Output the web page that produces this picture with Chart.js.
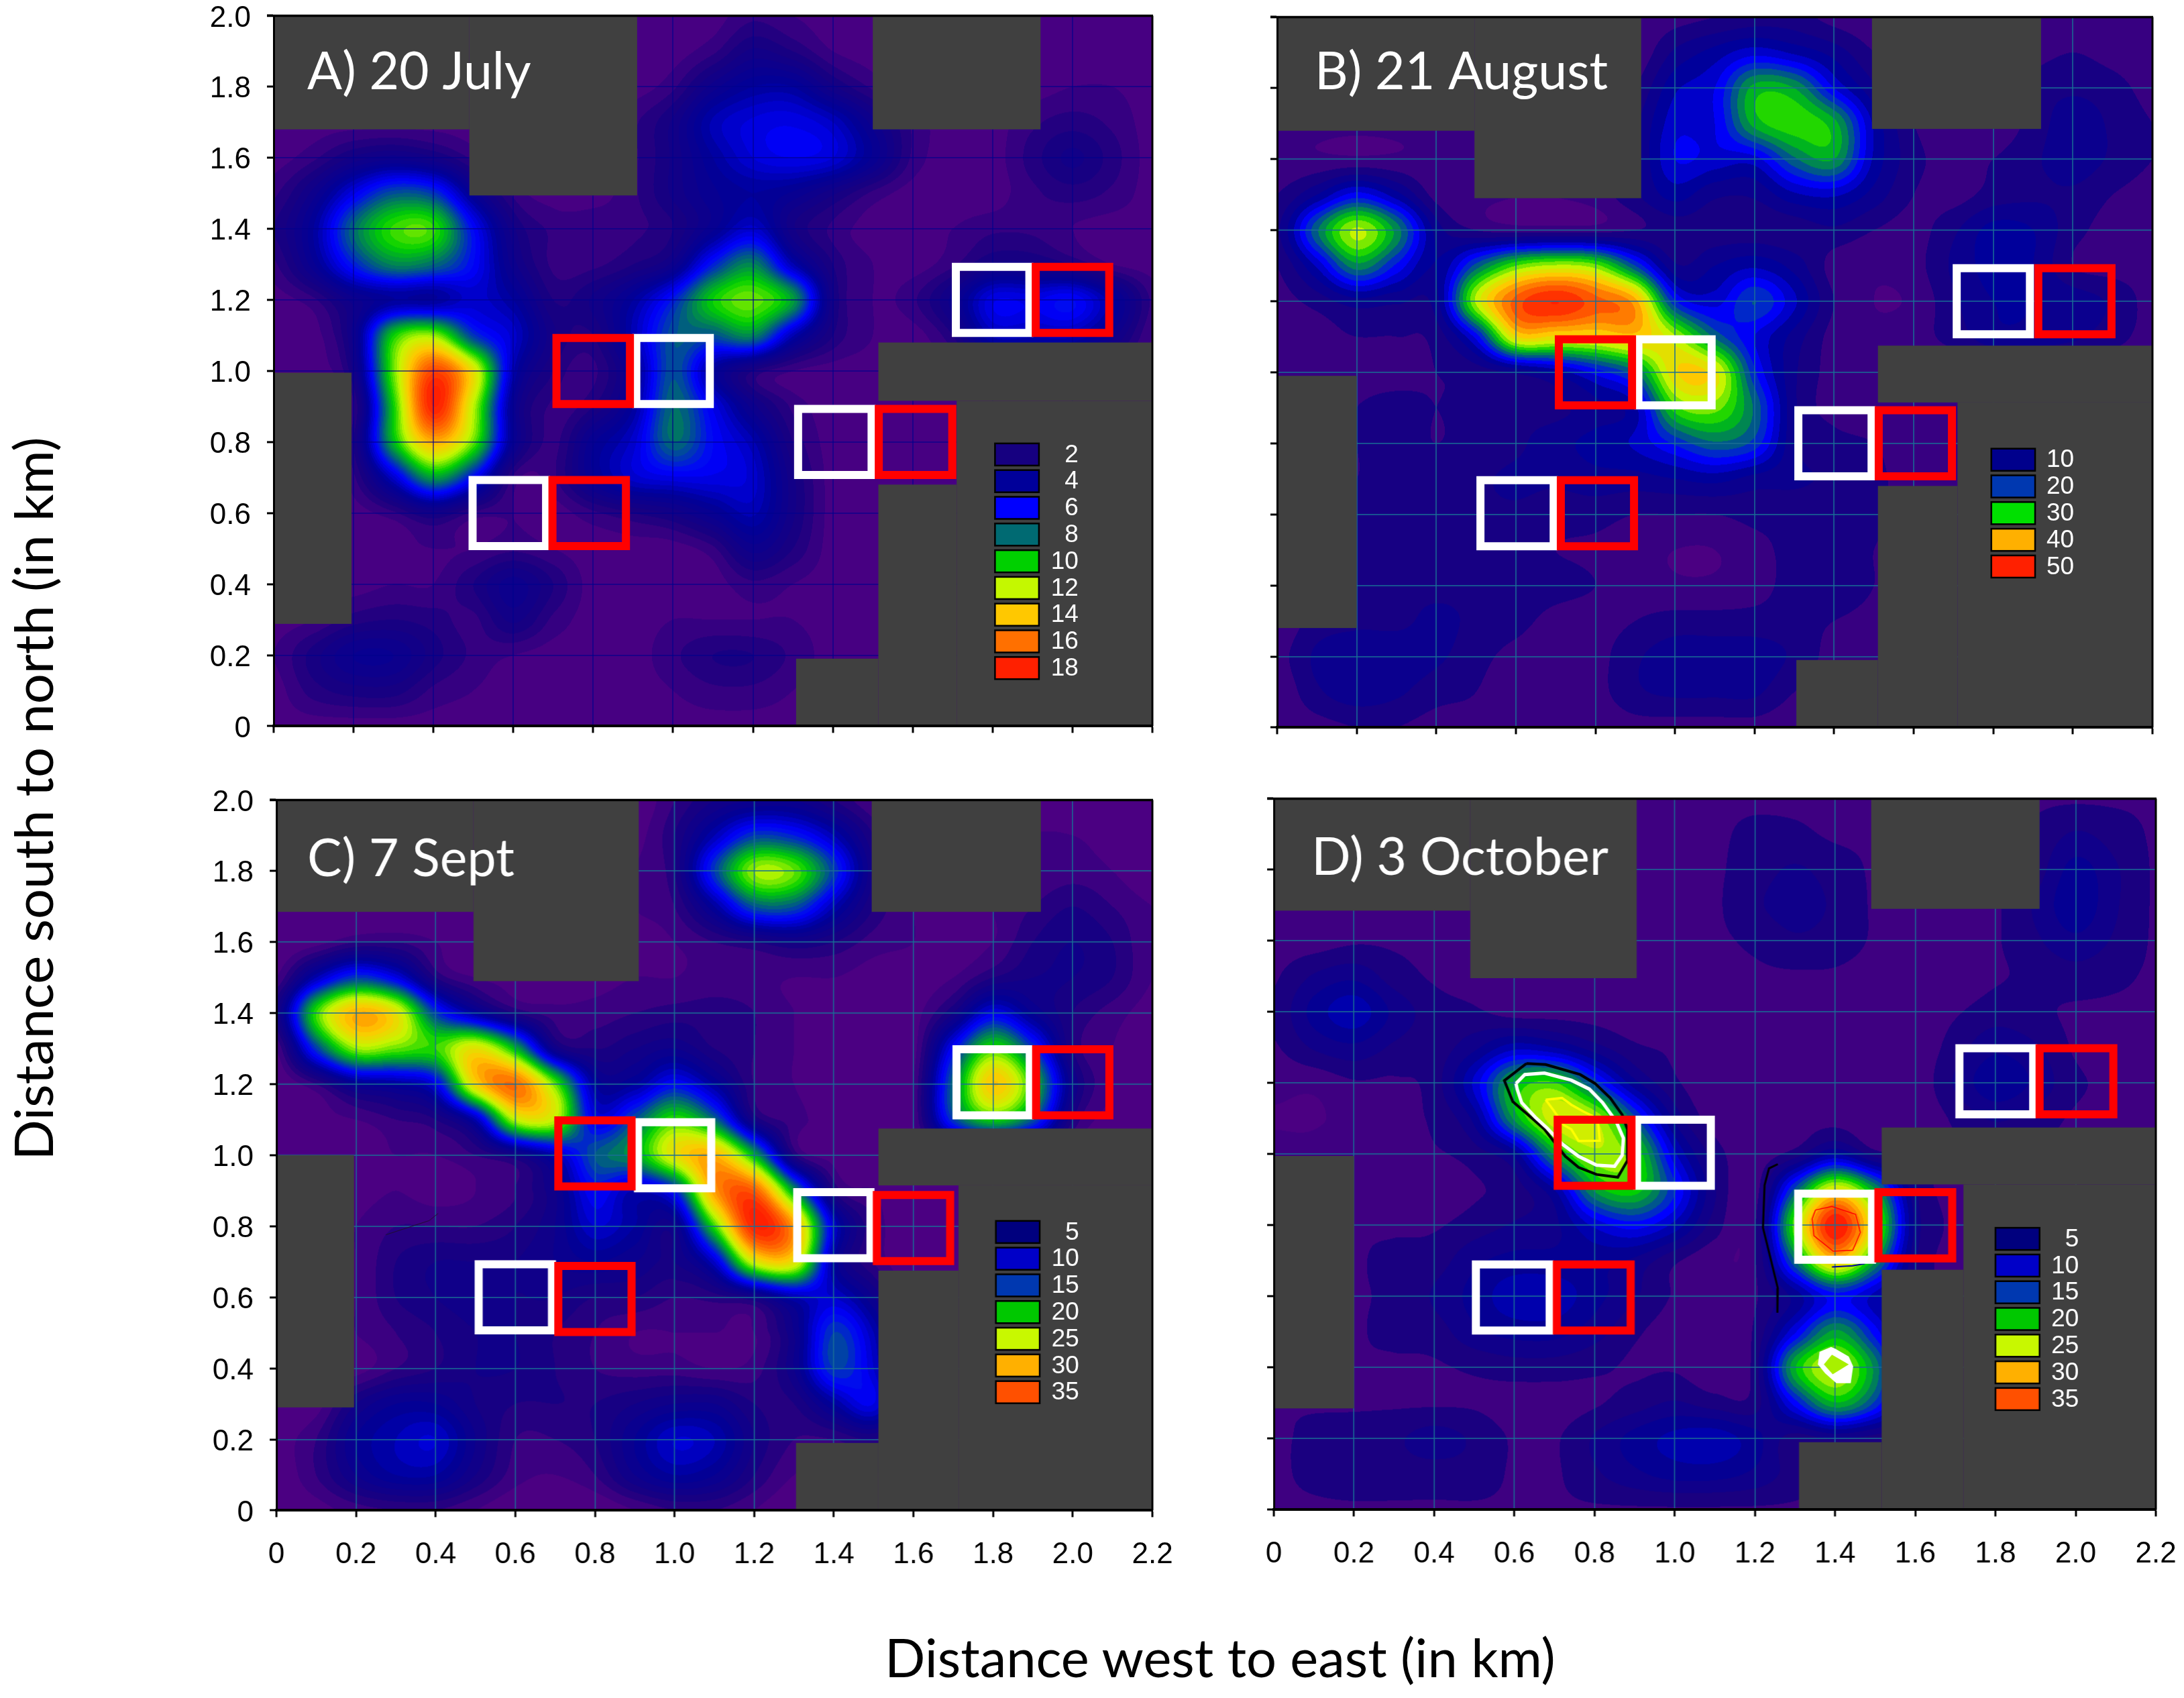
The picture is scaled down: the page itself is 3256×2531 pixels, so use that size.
<!DOCTYPE html>
<html>
<head>
<meta charset="utf-8">
<title>Distance maps</title>
<script src="https://cdn.jsdelivr.net/npm/chart.js@4"></script>
<style>
    html, body { margin: 0; background: #fff; }
    #page { position: relative; width: 3256px; height: 2531px; overflow: hidden; }
    canvas { position: absolute; }
    .axis-title { position: absolute; font-family: Lato, sans-serif; font-size: 79.5px; color: #000; white-space: nowrap; }
</style>
</head>
<body>
<div id="page">
    <div class="axis-title" id="title-x">Distance west to east (in km)</div>
    <div class="axis-title" id="title-y">Distance south to north (in km)</div>
</div>
<script>
const xTickLabels = ['0', '0.2', '0.4', '0.6', '0.8', '1.0', '1.2', '1.4', '1.6', '1.8', '2.0', '2.2'];
const yTickLabels = ['0', '0.2', '0.4', '0.6', '0.8', '1.0', '1.2', '1.4', '1.6', '1.8', '2.0'];

// Field, one row per 0.1 km, north (2.0) first, west (0) to east (2.2)
const heatA = [
    [1,1,1,1,1,1,1,1,1,1,1,1,1.5,1.2,1,1,1,1,1,1,1,1,1],
    [1,1,1,1,1,1,1,1,1,1,1,1.5,2.5,2,1.2,1,1,1,1,1,1,1,1],
    [1,1,1,1,1,1,1,1,1,1,1.5,3,4,4,2.5,1.5,1,1,1,1,1.2,1.2,1],
    [1,1,1,1,1,1,1,1,1,1.5,2.5,4.5,5.3,5.5,4.8,3,1.5,1,1,1.5,1.8,1.5,1],
    [1,1.5,2.5,3,2.5,1.5,1,1,1,1.5,2.5,4,5.2,5.6,5.2,3.5,1.5,1,1,1.8,2.5,1.8,1],
    [1.5,3,5.5,7.5,7,3.5,1.5,1,1,1.5,2.5,3.5,4,3.5,2.5,1.5,1,1,1,1.5,1.8,1.5,1],
    [2,4,8,10.5,10.5,6,2.5,1.5,1.5,1.5,2,3.5,5,2.5,1.5,1,1,1.2,1.5,1.5,1.2,1,1],
    [1.5,3.5,6.5,8.5,8,6,3,1.5,1.5,2,3,6.5,8.5,4.5,2,1.2,1,1.5,2.5,2.5,2,1.2,1],
    [1,1.5,3,4,4,5,4,2,2.5,4,6.5,10,11,9,2.5,1.2,1.5,3,5.5,5.5,6,4,1.5],
    [1,1,3,10,11.5,7,5,2.5,2,4.5,7.5,7.5,8.5,4.5,2,1.2,1,2,4.5,4.5,4.5,3,1.2],
    [1,1,2.5,11,17,13,4.5,2,1.5,3.5,7.5,4,2,1.2,1,1,1,1,1.5,1.5,1.5,1,1],
    [1,1,1.5,10,18,12,3.5,1.5,2,4,8,5.5,3,1.5,1,1,1,1,1,1,1,1,1],
    [1,1,2,9.5,14.5,11,3.5,1.5,3.5,5,8,6,4.5,2,1,1,1,1,1,1,1,1,1],
    [1,1,1.5,5,9,6,1.5,1.5,3.5,5,5.5,5.5,5,2.5,1,1,1,1,1,1,1,1,1],
    [1,1,1,1.5,2.5,1.5,1.2,1,1.5,2,2.5,3.5,4.5,2.5,1,1,1,1,1,1,1,1,1],
    [1,1,1,1,1.2,1.2,1.5,1.2,1,1,1,1.5,3,2,1,1,1,1,1,1,1,1,1],
    [1,1,1,1.2,1.2,2,3,2,1,1,1,1,1.5,1.2,1,1,1,1,1,1,1,1,1],
    [1,1.2,1.8,2,1.8,1.5,2.5,1.5,1,1,1.2,1.2,1.2,1.2,1,1,1,1,1,1,1,1,1],
    [1.2,2.2,3.2,3.2,2.2,1.5,1.2,1,1,1,1.5,2,2,1.5,1,1,1,1,1,1,1,1,1],
    [1,1.8,2.2,2.2,1.5,1.2,1,1,1,1,1.2,1.5,1.5,1.2,1,1,1,1,1,1,1,1,1],
    [1,1,1,1,1,1,1,1,1,1,1,1,1,1,1,1,1,1,1,1,1,1,1]
];
const heatB = [
    [3,3,3,3,3,3,3,3,3,3,4,5,6,6,4,3,3,3,3,3,3,3,3],
    [3,3,3,3,3,3,3,3,3,3,8,11,14,12,9,5,3,3,3,4,5,4,3],
    [3,3,3,3,3,3,3,3,3,5,12,15,26,25,15,8,3,3,3,6,7,6,4],
    [3,3,3,3,3,3,3,3,3,7,14,15,26,29,26,12,5,3,3,6,9,7,5],
    [3,3,3,3,3,3,3,3,3,7,15,14,14,22,25,12,6,4,5,7,9,7,5],
    [5,10,16,11,4,3,2.5,2.5,3.5,7,11,8,8,12,13,9,5,4,6,7,7,5,4],
    [7,22,33,24,9,5,4,4,4,5,6,6,6,6,7,5,4,7,11,10,6,4,4],
    [5,13,24,17,10,21,30,33,31,20,8,10,12,9,4,3,4,8,11,10,5,4,4],
    [4,6,9,8,9,33,46,50,46,41,18,14,20,13,5,2.5,3,7,10,10,9,7,4],
    [4,4,5,5,6,16,37,37,37,39,33,22,15,9,4,3,4,6,9,9,8,6,4],
    [4,4,4,4,5,6,8,11,16,22,37,36,18,8,4,3,3,3,3,3,3,3,3],
    [4,4,5,6,5,6,7,7,9,12,29,31,22,8,4,3,3,3,3,3,3,3,3],
    [4,4,5,6,5,6,7,9,11,13,18,22,19,8,6,5,3,3,3,3,3,3,3],
    [4,4,5,6,6,7,8,8,9,9,10,11,9,8,7,6,3,3,3,3,3,3,3],
    [4,4,6,7,7,7,7,6,6,5,5,5,6,6,6,6,3,3,3,3,3,3,3],
    [4,4,6,7,7,7,6,5,4.5,3.5,2.5,2.5,4,6,7,5,3,3,3,3,3,3,3],
    [4,4,6,7,7,7,7,6,5,4,3,3,4,6,7,5,3,3,3,3,3,3,3],
    [3,6,7,7,8,7,6,4,4,5,6,6,6,6,5,4,3,3,3,3,3,3,3],
    [4,8,9,9,8,6,4,3,4,7,9,9,9,7,4,4,3,3,3,3,3,3,3],
    [3,7,9,8,6,5,3,3,4,7,8,8,8,5,4,4,3,3,3,3,3,3,3],
    [3,4,5,5,4,4,3,3,3,4,4,4,4,3,3,3,3,3,3,3,3,3,3]
];
const heatC = [
    [1,1,1,1,1,1,1,1,1,1,3,5,6,6,4,2,1,1,1,1,1,1,1],
    [1,1,1,1,1,1,1,1,1,1.5,4,9,14,13,9,4,1.5,1,1,2,2,1.5,1],
    [1,1,1,1,1,1,1,1,1,2,4,14,23,22,14,5,2,1,1.5,2,2.5,2,1],
    [1,1,1,1,1,1,1,1,1,2,3,8,15,15,9,4,2,1.5,2,3,4,3,2],
    [1,1.5,3,3,2,1,1,1,1,1.5,2,3,4,5,4,2.5,2,1.5,2,4,5,4,2],
    [2,9,14,11,4,2,1.5,1.2,1.5,2,2,2.5,2.5,2,2,1.5,1.5,2,4,5,5,4,2],
    [5,21,29,26,14,8,4,2.5,2.5,3,3.5,3.5,3,2,1.5,1.2,1.5,5,11,7,4,2.5,1.5],
    [2,14,23,22,21,26,19,6,4,5,6,4,3,2,1.5,1.2,1.5,12,21,14,4,2,1.5],
    [1,3,7,8,11,27,32,22,8,8,12,8,3,2,1.5,1.2,2,16,28,20,6,2,1.5],
    [1,1.5,2,3,4,9,24,24,11,15,21,16,5,2.5,1.5,1.2,2,14,20,15,4,1.5,1.2],
    [1,1.2,1.5,2,2,3,5,9,15,18,26,29,19,4,1.5,1,1,1,1,1,1,1,1],
    [1,1.2,1.5,2,1.5,2,3,6,12,9,13,30,33,18,4,2,1,1,1,1,1,1,1],
    [1,1.5,2,3,3,3,4,6,10,8,6,21,36,30,10,3,1,1,1,1,1,1,1],
    [1,1.5,2,4,5,5,5,6,7,6,5,10,25,26,8,3,1,1,1,1,1,1,1],
    [1,1.5,2,4,5,5.5,5,5,4,4,3,3.5,5,9,10,6,1,1,1,1,1,1,1],
    [1,1.5,2,3,4,5,5,4,3,2,2,2,2,6,14,9,1,1,1,1,1,1,1],
    [1,1.2,1.5,3,4,5,5,4,3,2.5,2.5,2,2.5,6,14,10,1,1,1,1,1,1,1],
    [1,1.5,5,7,7,5,4,4,4,5,6,6,4,4,8,11,1,1,1,1,1,1,1],
    [1.5,3,7,9,10,6,3,3,4,7,10,9,5,3,3,4,1,1,1,1,1,1,1],
    [1.2,3,6,8,8,5,2.5,2,3,6,8,7,4,2,2,2,1,1,1,1,1,1,1],
    [1,1.5,2.5,3,3,2,1,1,1,2,3,3,2,1,1,1,1,1,1,1,1,1,1]
];
const heatD = [
    [3,3,3,3,3,3,3,3,3,3,3,3,3,3,3,3,3,3,3,3,3,3,3],
    [3,3,3,3,3,3,3,3,3,3,3,3,3.5,3.5,3,3,3,3,3,3.5,5,4,3],
    [3,3,3,3,3,3,3,3,3,3,3,3,4,5,4,3,3,3,3,4,7,5,3],
    [3,3,3,3,3,3,3,3,3,3,3,3,4.5,5.5,4.5,3,3,3,3,5,7.5,5,3],
    [2.5,2.5,3,3,3,3,3,3,3,3,3,3,3.5,4.5,4,3,2.5,2,3,4.5,6,4.5,3],
    [3,5,6,4,3,2.5,2,2,2,2.5,3,3,3,3,3,2.5,2,2,3,3.5,4,3.5,3],
    [3.5,7,9,6,4,3.5,2.5,2.5,2.5,2.5,3,3,3,3,3,2,2,3,4,3.5,3,3,3],
    [3,5,6,4.5,4,6,9,8,5.5,3.5,3,2.5,3,3,2.5,1.8,2,4,6,5,3,3,3],
    [2,2,3,3,4,10,19,21,14,7,3.5,2.5,3,2.5,2.5,1.8,2,5,7.5,6,3.5,3,2.5],
    [1.5,1.5,2,3,3.5,7,18,25,24,15,6,2.5,2.5,2.5,2.5,2,2,3.5,5,4,3,3,2.5],
    [2,2,3,3,3,4,7,18,23.5,21,10,4,2.5,4,8,4,3,3,3,3,3,3,3],
    [2,2,3,2.5,2,3,4,8,18,20,13,5,2.5,15,26,18,5,3,3,3,3,3,3],
    [2,2,3,3,3,4,5,6,10,12,9,4,3,22,37,24,6,3,3,3,3,3,3],
    [2,2,3,3.5,4,6,7,7,7,6,3.5,2,3,16,28,18,5,3,3,3,3,3,3],
    [2,2,3,3.5,5,7,9,9,7,5,3,2,3,7,12,9,4,3,3,3,3,3,3],
    [2,2,3,3.5,4,6,7,7,5.5,3.5,2.5,2,3.5,11,18,12,4,3,3,3,3,3,3],
    [2,2,3,3,3,3.5,4,4,3.5,3,3,2,4,19,24,17,4,3,3,3,3,3,3],
    [3,3,3,3,3,3,2.5,2.5,3,4,5,4,4,12,19,14,4,3,3,3,3,3,3],
    [3,3.5,4,4.5,5.5,4.5,3,3,5,7,8.5,9,7,4,5,4,3,3,3,3,3,3,3],
    [3,3.5,4,4,4,4,3,3,4.5,6,7,7,6,4,3,3,3,3,3,3,3,3,3],
    [3,3,3,3,3,3,3,3,3,3,3,3,3,3,3,3,3,3,3,3,3,3,3]
];

// Legend levels and swatches
const levelsA = [2, 4, 6, 8, 10, 12, 14, 16, 18];
const swatchesA = ['#160080', '#00009a', '#0000ff', '#006a72', '#00d000', '#c4f800', '#ffc800', '#ff7000', '#ff2000'];
const levelsB = [10, 20, 30, 40, 50];
const swatchesB = ['#00008c', '#0038b0', '#00e000', '#ffb000', '#ff2000'];
const levelsCD = [5, 10, 15, 20, 25, 30, 35];
const swatchesCD = ['#00007e', '#0000c8', '#0038b0', '#00c800', '#c8f800', '#ffb000', '#ff5000'];

// Colour ramp of the surface, positions are fractions of the top value of a panel
const rampStops = [0, 0.05, 1 / 9, 2 / 9, 3 / 9, 4 / 9, 5 / 9, 6 / 9, 7 / 9, 8 / 9, 1];
const rampColours = ['#4b0082', '#4b0082', '#1a0080', '#000098', '#0000ff', '#006a70', '#00d000', '#c4f800', '#ffc800', '#ff7000', '#ff2000'];

// Survey squares, centres in km
const whiteA = [[0.59, 0.6], [1.0, 1.0], [1.405, 0.8], [1.8, 1.2]];
const redA = [[0.79, 0.6], [0.8, 1.0], [1.607, 0.8], [2.0, 1.2]];
const whiteB = [[0.603, 0.603], [1.0, 1.0], [1.402, 0.8], [1.8, 1.2]];
const redB = [[0.805, 0.603], [0.8, 1.0], [1.604, 0.8], [2.005, 1.2]];
const whiteC = [[0.6, 0.6], [1.0, 1.0], [1.4, 0.803], [1.8, 1.205]];
const redC = [[0.8, 0.595], [0.8, 1.005], [1.6, 0.795], [2.0, 1.205]];
const whiteD = [[0.596, 0.597], [0.998, 1.004], [1.4, 0.796], [1.802, 1.205]];
const redD = [[0.798, 0.597], [0.8, 1.004], [1.6, 0.8], [2.002, 1.205]];

// Grey blocks, x0 y0 x1 y1 in km
const blocksA = [[0, 1.68, 0.49, 2], [0.49, 1.494, 0.91, 2], [1.5, 1.68, 1.92, 2], [0, 0.288, 0.195, 0.995],
    [1.514, 0.916, 2.2, 1.08], [1.71, 0, 2.2, 0.916], [1.514, 0, 1.71, 0.68], [1.308, 0, 1.514, 0.19]];
const blocksB = [[0, 1.68, 0.496, 2], [0.496, 1.49, 0.915, 2], [1.495, 1.685, 1.92, 2], [0, 0.28, 0.2, 0.99],
    [1.51, 0.915, 2.2, 1.075], [1.71, 0, 2.2, 0.915], [1.51, 0, 1.71, 0.68], [1.305, 0, 1.51, 0.19]];
const blocksC = [[0, 1.685, 0.495, 2], [0.495, 1.49, 0.91, 2], [1.495, 1.685, 1.92, 2], [0, 0.29, 0.195, 1.0],
    [1.512, 0.915, 2.2, 1.075], [1.713, 0, 2.2, 0.915], [1.512, 0, 1.713, 0.675], [1.305, 0, 1.512, 0.19]];
const blocksD = [[0, 1.685, 0.49, 2], [0.49, 1.495, 0.905, 2], [1.49, 1.69, 1.91, 2], [0, 0.285, 0.2, 0.995],
    [1.516, 0.915, 2.2, 1.075], [1.72, 0, 2.2, 0.915], [1.516, 0, 1.72, 0.675], [1.31, 0, 1.516, 0.19]];

// Contour lines drawn over panels C and D, km
const strayC = [[0.275, 0.776], [0.384, 0.816], [0.406, 0.836]];
const blackBlobD = [[0.63, 1.255], [0.678, 1.252], [0.764, 1.224], [0.801, 1.199], [0.839, 1.158], [0.869, 1.111], [0.882, 1.07], [0.882, 0.982], [0.858, 0.935], [0.805, 0.943], [0.76, 0.963], [0.727, 0.994], [0.701, 1.032], [0.675, 1.07], [0.641, 1.104], [0.596, 1.148], [0.575, 1.207], [0.63, 1.255]];
const whiteBlobD = [[0.604, 1.199], [0.626, 1.224], [0.675, 1.228], [0.742, 1.208], [0.787, 1.183], [0.82, 1.145], [0.854, 1.092], [0.872, 1.045], [0.869, 0.997], [0.85, 0.966], [0.805, 0.969], [0.76, 0.994], [0.719, 1.029], [0.682, 1.073], [0.652, 1.104], [0.618, 1.145], [0.607, 1.183], [0.604, 1.199]];
const yellowBlobD = [[0.678, 1.153], [0.719, 1.158], [0.742, 1.139], [0.772, 1.12], [0.794, 1.108], [0.809, 1.086], [0.813, 1.038], [0.76, 1.037], [0.742, 1.07], [0.723, 1.082], [0.698, 1.123], [0.678, 1.153]];
const blackStripD = [[1.257, 0.972], [1.235, 0.96], [1.224, 0.913], [1.22, 0.793], [1.238, 0.711], [1.257, 0.623], [1.256, 0.554]];
const redRingD = [[1.351, 0.843], [1.392, 0.853], [1.451, 0.831], [1.463, 0.78], [1.444, 0.73], [1.395, 0.727], [1.347, 0.771], [1.343, 0.818], [1.351, 0.843]];
const navyDashD = [[1.392, 0.683], [1.444, 0.686], [1.474, 0.692]];
const whiteSpotD = [[1.361, 0.444], [1.39, 0.458], [1.4, 0.453], [1.434, 0.431], [1.445, 0.403], [1.439, 0.356], [1.403, 0.356], [1.375, 0.384], [1.357, 0.409]];
const limeSpotD = [[1.392, 0.436], [1.434, 0.409], [1.394, 0.381], [1.372, 0.409]];

function hexToRgb(h) {
    return [parseInt(h.slice(1, 3), 16), parseInt(h.slice(3, 5), 16), parseInt(h.slice(5, 7), 16)];
}
const rampRgb = rampColours.map(hexToRgb);

function colourAt(t) {
    t = Math.max(0, Math.min(1, t));
    let i = 0;
    while (i < rampStops.length - 2 && t > rampStops[i + 1]) i++;
    const k = (t - rampStops[i]) / (rampStops[i + 1] - rampStops[i]);
    return [0, 1, 2].map(c => rampRgb[i][c] + (rampRgb[i + 1][c] - rampRgb[i][c]) * k);
}

function cubic(a, b, c, d, t) {
    return b + 0.5 * t * (c - a + t * (2 * a - 5 * b + 4 * c - d + t * (3 * (b - c) + d - a)));
}

function sampleField(rows, xKm, yKm) {
    const gx = xKm / 0.1, gy = (2 - yKm) / 0.1;
    const ix = Math.floor(gx), iy = Math.floor(gy);
    const tx = gx - ix, ty = gy - iy;
    const vals = [];
    for (let j = -1; j <= 2; j++) {
        const row = rows[Math.max(0, Math.min(rows.length - 1, iy + j))];
        const g = k => row[Math.max(0, Math.min(row.length - 1, ix + k))];
        vals.push(cubic(g(-1), g(0), g(1), g(2), tx));
    }
    return cubic(vals[0], vals[1], vals[2], vals[3], ty);
}

const fieldPlugin = {
    id: 'fieldLayer',
    // painted before the scale layers so the grid lines land on top of it
    beforeDraw(chart, args, opts) {
        const { left, top, width, height } = chart.chartArea;
        const sx = chart.scales.x, sy = chart.scales.y;
        const rows = chart.data.rows;
        const w = Math.round(width), h = Math.round(height);
        const img = new ImageData(w, h);
        const xs = new Float64Array(w);
        for (let i = 0; i < w; i++) xs[i] = Math.max(0, Math.min(2.2, sx.getValueForPixel(left + i + 0.5)));
        const step = opts.step, topValue = opts.top;
        let p = 0;
        for (let j = 0; j < h; j++) {
            const yKm = Math.max(0, Math.min(2, sy.getValueForPixel(top + j + 0.5)));
            for (let i = 0; i < w; i++) {
                const v = Math.max(0, sampleField(rows, xs[i], yKm));
                const band = Math.floor(v / step) * step + step / 2;
                const c = colourAt(band / topValue);
                img.data[p++] = c[0]; img.data[p++] = c[1]; img.data[p++] = c[2]; img.data[p++] = 255;
            }
        }
        const off = document.createElement('canvas');
        off.width = w; off.height = h;
        off.getContext('2d').putImageData(img, 0, 0);
        chart.ctx.drawImage(off, left, top);
    }
};

const blockPlugin = {
    id: 'greyBlocks',
    beforeDatasetsDraw(chart) {
        const { ctx, scales: { x, y } } = chart;
        ctx.save();
        ctx.fillStyle = '#404040';
        chart.data.blocks.forEach(r => {
            const x0 = x.getPixelForValue(r[0]), x1 = x.getPixelForValue(r[2]);
            const y0 = y.getPixelForValue(r[1]), y1 = y.getPixelForValue(r[3]);
            ctx.fillRect(x0, y1, x1 - x0, y0 - y1);
        });
        ctx.restore();
    }
};

const overlayPlugin = {
    id: 'panelOverlay',
    afterDatasetsDraw(chart, args, opts) {
        const { ctx, chartArea: a, scales: { x, y } } = chart;
        ctx.save();
        // panel letter and date
        ctx.fillStyle = '#fff';
        ctx.font = '77px Lato, sans-serif';
        ctx.textAlign = 'left';
        ctx.textBaseline = 'alphabetic';
        ctx.fillText(opts.title, a.left + opts.titleOffset, a.top + opts.titleDrop);
        // legend
        const sw = x.getPixelForValue(opts.legendX + 0.11) - x.getPixelForValue(opts.legendX);
        const sh = 33, pitch = 39.8;
        const lx = x.getPixelForValue(opts.legendX), ly = y.getPixelForValue(opts.legendY);
        const labelRight = x.getPixelForValue(opts.legendRight);
        ctx.font = '37px "Liberation Sans", Arial, sans-serif';
        ctx.textAlign = 'right';
        ctx.textBaseline = 'middle';
        opts.levels.forEach((level, i) => {
            const top = ly + i * pitch;
            ctx.fillStyle = opts.swatches[i];
            ctx.fillRect(lx, top, sw, sh);
            ctx.strokeStyle = '#000';
            ctx.lineWidth = 2.5;
            ctx.strokeRect(lx, top, sw, sh);
            ctx.fillStyle = '#fff';
            ctx.fillText(String(level), labelRight, top + sh / 2 + 1);
        });
        // top and right frame lines
        ctx.strokeStyle = '#000';
        ctx.lineWidth = 3.5;
        ctx.beginPath(); ctx.moveTo(a.left - 10, a.top); ctx.lineTo(a.right + 1, a.top); ctx.stroke();
        ctx.lineWidth = 3;
        ctx.beginPath(); ctx.moveTo(a.right, a.top); ctx.lineTo(a.right, a.bottom); ctx.stroke();
        ctx.restore();
    }
};

function squareDataset(centres, colour) {
    const hw = 0.092, hh = 0.093;
    return centres.map(c => ({
        data: [
            { x: c[0] - hw, y: c[1] - hh }, { x: c[0] + hw, y: c[1] - hh },
            { x: c[0] + hw, y: c[1] + hh }, { x: c[0] - hw, y: c[1] + hh },
            { x: c[0] - hw, y: c[1] - hh }
        ],
        showLine: true, borderColor: colour, borderWidth: 12, pointRadius: 0,
        borderJoinStyle: 'miter', borderCapStyle: 'square', tension: 0, clip: false
    }));
}

function lineDataset(points, colour, width) {
    return {
        data: points.map(p => ({ x: p[0], y: p[1] })),
        showLine: true, borderColor: colour, borderWidth: width, pointRadius: 0, tension: 0
    };
}

function spotDataset(points, colour) {
    return {
        data: points.map(p => ({ x: p[0], y: p[1] })),
        showLine: true, borderWidth: 0, borderColor: colour, backgroundColor: colour, fill: 'shape', pointRadius: 0, tension: 0
    };
}

function heatDataset(rows) {
    const data = [];
    rows.forEach((row, j) => row.forEach((v, i) => data.push({ x: i / 10, y: (20 - j) / 10, v })));
    return { data, pointRadius: 0, showLine: false };
}

function makePanel(p) {
    const padL = 130, padT = 30, padR = 40, padB = 90;
    const w = p.right - p.left, h = p.bottom - p.top;
    const canvas = document.createElement('canvas');
    canvas.width = w + padL + padR;
    canvas.height = h + padT + padB;
    document.getElementById('page').appendChild(canvas);

    const tickFont = { family: '"Liberation Sans", Arial, sans-serif', size: 44 };
    const chart = new Chart(canvas.getContext('2d'), {
        type: 'scatter',
        data: {
            rows: p.heat,
            blocks: p.blocks,
            // first dataset is painted last
            datasets: [
                ...squareDataset(p.red, '#ff0000'),
                ...squareDataset(p.white, '#ffffff'),
                ...p.lines,
                heatDataset(p.heat)
            ]
        },
        options: {
            responsive: false,
            maintainAspectRatio: false,
            animation: false,
            devicePixelRatio: 1,
            layout: { padding: { top: padT, right: padR } },
            scales: {
                x: {
                    type: 'linear', min: 0, max: 2.2,
                    afterFit: s => { s.height = padB; },
                    border: { color: '#000', width: 4, z: 2 },
                    grid: { color: p.gridColor, lineWidth: 2, tickColor: '#000', tickWidth: 3, tickLength: 10 },
                    ticks: {
                        stepSize: 0.2, autoSkip: false, maxRotation: 0, color: '#000', font: tickFont, padding: 30,
                        callback: (v, i) => p.showX ? xTickLabels[i] : ''
                    }
                },
                y: {
                    type: 'linear', min: 0, max: 2,
                    afterFit: s => { s.width = padL; },
                    border: { color: '#000', width: 3, z: 2 },
                    grid: { color: p.gridColor, lineWidth: 2, tickColor: '#000', tickWidth: 3, tickLength: 10 },
                    ticks: {
                        stepSize: 0.2, autoSkip: false, color: '#000', font: tickFont, padding: 24, labelOffset: 4,
                        callback: (v, i) => p.showY ? yTickLabels[i] : ''
                    }
                }
            },
            plugins: {
                legend: { display: false },
                tooltip: { enabled: false },
                fieldLayer: { step: p.step, top: p.topValue },
                panelOverlay: {
                    title: p.title, titleOffset: p.titleOffset, titleDrop: p.titleDrop, levels: p.levels, swatches: p.swatches,
                    legendX: p.legendX, legendY: p.legendY, legendRight: p.legendRight
                }
            }
        },
        plugins: [fieldPlugin, blockPlugin, overlayPlugin]
    });

    // the tick labels eat into the plot area, so grow the canvas until the plot has the wanted size
    const dw = w - chart.chartArea.width, dh = h - chart.chartArea.height;
    chart.resize(canvas.width + dw, canvas.height + dh);
    canvas.style.left = (p.left - chart.chartArea.left) + 'px';
    canvas.style.top = (p.top - chart.chartArea.top) + 'px';
}

const gridNavy = 'rgba(0, 0, 140, 0.6)';
const gridTeal = 'rgba(25, 110, 150, 0.75)';

makePanel({
    title: 'A) 20 July', titleOffset: 50, titleDrop: 110, left: 408, top: 23, right: 1718, bottom: 1082, showX: false, showY: true,
    heat: heatA, step: 0.4, topValue: 18, gridColor: gridNavy, blocks: blocksA, white: whiteA, red: redA, lines: [],
    levels: levelsA, swatches: swatchesA, legendX: 1.806, legendY: 0.796, legendRight: 2.015
});
makePanel({
    title: 'B) 21 August', titleOffset: 56, titleDrop: 108, left: 1904, top: 25, right: 3209, bottom: 1084, showX: false, showY: false,
    heat: heatB, step: 2.5, topValue: 50, gridColor: gridTeal, blocks: blocksB, white: whiteB, red: redB, lines: [],
    levels: levelsB, swatches: swatchesB, legendX: 1.795, legendY: 0.785, legendRight: 2.003
});
makePanel({
    title: 'C) 7 Sept', titleOffset: 46, titleDrop: 114, left: 412, top: 1192, right: 1717, bottom: 2251, showX: true, showY: true,
    heat: heatC, step: 1, topValue: 36, gridColor: gridTeal, blocks: blocksC, white: whiteC, red: redC,
    lines: [lineDataset(strayC, '#201030', 1)],
    levels: levelsCD, swatches: swatchesCD, legendX: 1.807, legendY: 0.815, legendRight: 2.016
});
makePanel({
    title: 'D) 3 October', titleOffset: 56, titleDrop: 114, left: 1899, top: 1190, right: 3213, bottom: 2250, showX: true, showY: false,
    heat: heatD, step: 1.6, topValue: 36, gridColor: gridTeal, blocks: blocksD, white: whiteD, red: redD,
    lines: [
        spotDataset(limeSpotD, '#a8f000'), spotDataset(whiteSpotD, '#ffffff'),
        lineDataset(navyDashD, '#0000a0', 2), lineDataset(redRingD, '#ff0000', 1.5), lineDataset(blackStripD, '#000000', 3),
        lineDataset(yellowBlobD, '#ffff00', 3.5), lineDataset(whiteBlobD, '#ffffff', 5), lineDataset(blackBlobD, '#000000', 4)
    ],
    levels: levelsCD, swatches: swatchesCD, legendX: 1.80, legendY: 0.793, legendRight: 2.008
});

// shared axis titles
const titleX = document.getElementById('title-x');
titleX.style.left = (1819 - titleX.offsetWidth / 2) + 'px';
titleX.style.top = '2422px';
const titleY = document.getElementById('title-y');
titleY.style.left = (48 - titleY.offsetWidth / 2) + 'px';
titleY.style.top = (1190 - titleY.offsetHeight / 2) + 'px';
titleY.style.transform = 'rotate(-90deg)';
</script>
</body>
</html>
